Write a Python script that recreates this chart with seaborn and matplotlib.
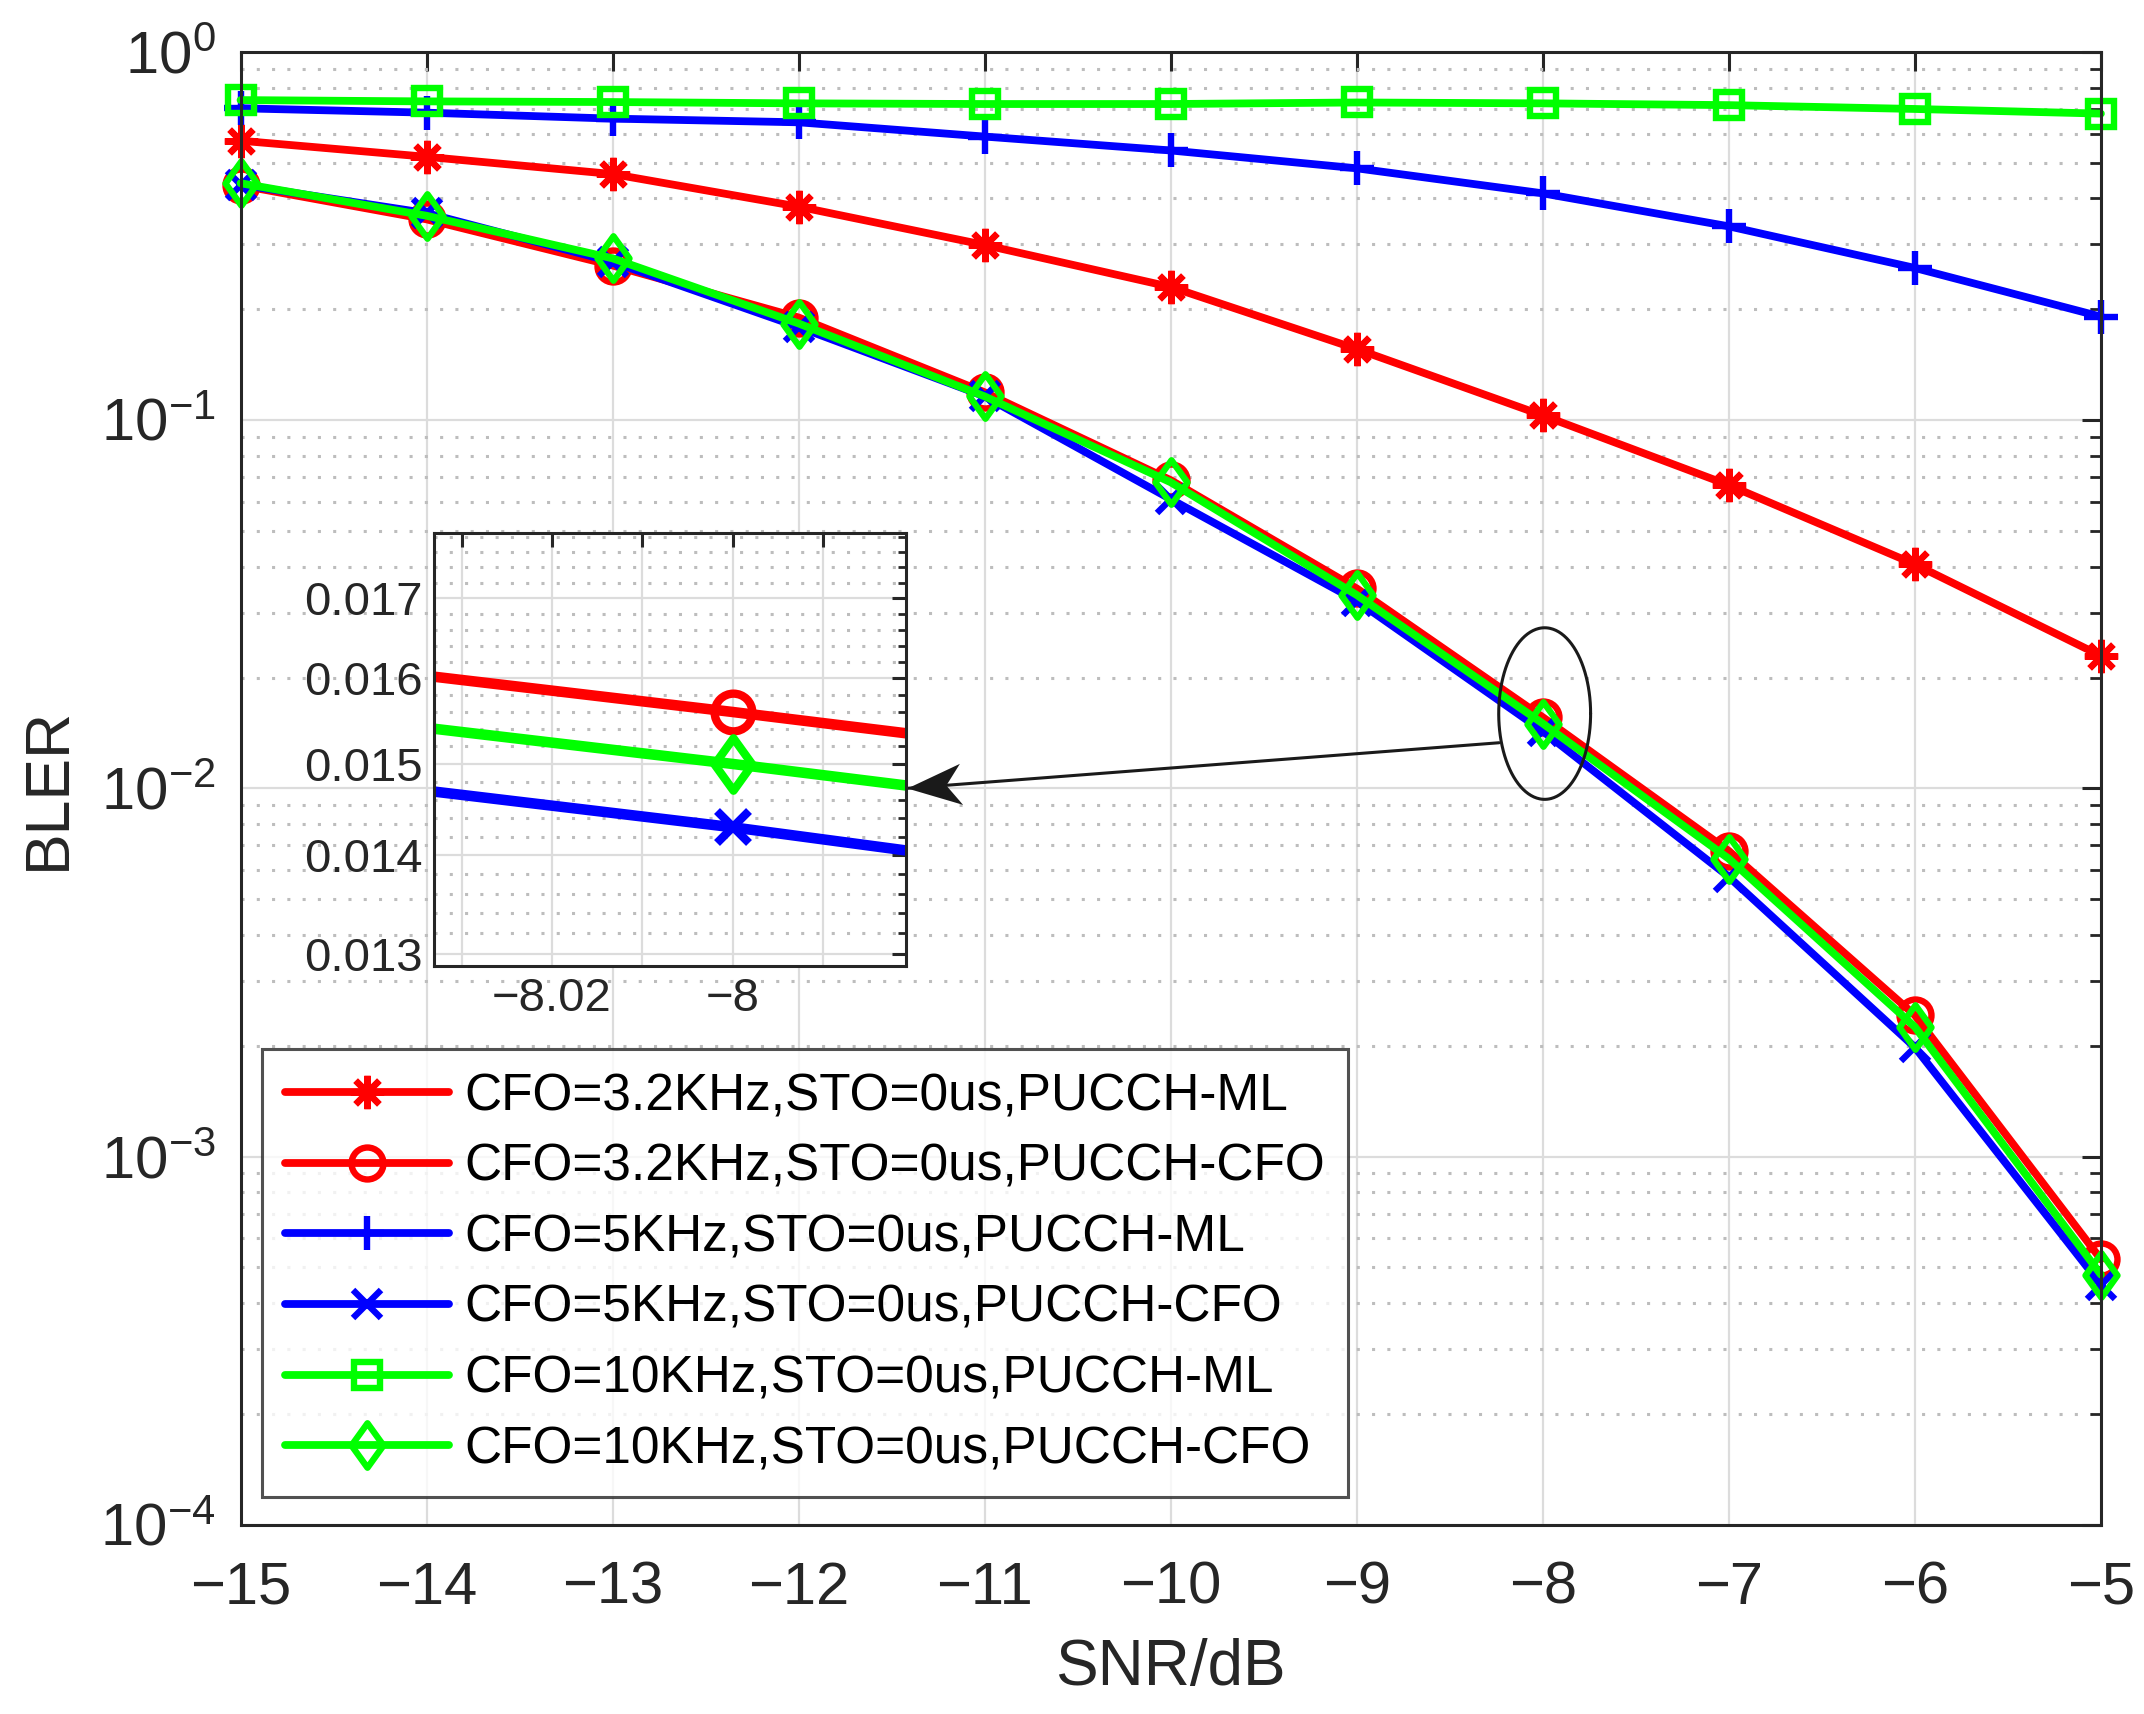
import numpy as np
import pandas as pd
import seaborn as sns
import matplotlib.pyplot as plt
from matplotlib.path import Path
from matplotlib.ticker import FixedLocator, NullFormatter, FixedFormatter, LogFormatterMathtext, FormatStrFormatter


# SNR points and BLER
snr = [-15, -14, -13, -12, -11, -10, -9, -8, -7, -6, -5]

bler_32_ml = [0.574, 0.519, 0.466, 0.380, 0.299, 0.230, 0.156, 0.103, 0.0666, 0.0406, 0.0229]
bler_32_cfo = [0.434, 0.351, 0.263, 0.190, 0.119, 0.0687, 0.0349, 0.0156, 0.00676, 0.00242, 0.000526]
bler_5_ml = [0.703, 0.684, 0.659, 0.644, 0.589, 0.540, 0.483, 0.413, 0.336, 0.259, 0.191]
bler_5_cfo = [0.436, 0.365, 0.269, 0.179, 0.116, 0.0610, 0.0323, 0.0143, 0.00575, 0.00198, 0.000449]
bler_10_ml = [0.740, 0.734, 0.731, 0.725, 0.722, 0.722, 0.729, 0.725, 0.717, 0.700, 0.680]
bler_10_cfo = [0.440, 0.359, 0.275, 0.183, 0.116, 0.0678, 0.0335, 0.0150, 0.00644, 0.00225, 0.000478]

labels = ['CFO=3.2KHz,STO=0us,PUCCH-ML', 'CFO=3.2KHz,STO=0us,PUCCH-CFO',
          'CFO=5KHz,STO=0us,PUCCH-ML', 'CFO=5KHz,STO=0us,PUCCH-CFO',
          'CFO=10KHz,STO=0us,PUCCH-ML', 'CFO=10KHz,STO=0us,PUCCH-CFO']
series = [bler_32_ml, bler_32_cfo, bler_5_ml, bler_5_cfo, bler_10_ml, bler_10_cfo]

# tall diamond like matlab's
diamond = Path([(0, 1), (0.72, 0), (0, -1), (-0.72, 0), (0, 1)],
               [Path.MOVETO, Path.LINETO, Path.LINETO, Path.LINETO, Path.CLOSEPOLY])
colors = ['#ff0000', '#ff0000', '#0000ff', '#0000ff', '#00ff00', '#00ff00']
markers = [(8, 2, 0), 'o', '+', 'x', 's', diamond]
msizes = [12, 11.5, 12.5, 10, 9.5, 16]

sns.set_theme(style='white')
plt.rcParams['font.family'] = ['Liberation Sans', 'DejaVu Sans']
plt.rcParams['mathtext.fontset'] = 'custom'
plt.rcParams['mathtext.rm'] = 'Liberation Sans'
plt.rcParams['mathtext.it'] = 'Liberation Sans:italic'
plt.rcParams['mathtext.bf'] = 'Liberation Sans:bold'

dark = '#262626'
fig = plt.figure(figsize=(10.72, 8.57), dpi=200)
ax = fig.add_axes([0.1122, 0.1104, 0.8677, 0.8593])
axin = fig.add_axes([0.2023, 0.4365, 0.2202, 0.2527])

for a, lw, mew, scale, clip in ((ax, 2.8, 2.3, 1.0, False), (axin, 3.8, 3.0, 1.18, True)):
    for vals, lab, c, m, ms in zip(series, labels, colors, markers, msizes):
        sns.lineplot(x=snr, y=vals, ax=a, color=c, marker=m, markersize=ms * scale,
                     markerfacecolor='none', markeredgecolor=c, markeredgewidth=mew,
                     linewidth=lw, label=lab, legend=False, clip_on=clip)
    a.set_yscale('log')
    a.set_facecolor('white')
    for s in a.spines.values():
        s.set_color(dark)
        s.set_linewidth(1.1)
    a.tick_params(which='both', direction='in', top=True, right=True, colors=dark)
    a.grid(True, which='major', color='#dcdcdc', linewidth=0.8)
    a.set_axisbelow(True)

# main axes
ax.set_xlim(-15, -5)
ax.set_ylim(1e-4, 1)
ax.set_xticks(snr)
ax.yaxis.set_major_locator(FixedLocator([1e-4, 1e-3, 1e-2, 1e-1, 1]))
ax.yaxis.set_major_formatter(LogFormatterMathtext())
minors = [k * 10.0 ** e for e in range(-4, 0) for k in range(2, 10)]
ax.yaxis.set_minor_locator(FixedLocator(minors))
ax.yaxis.set_minor_formatter(NullFormatter())
ax.grid(True, which='minor', axis='y', color='#bdbdbd', linewidth=1.1, linestyle=(0, (1, 4)))
ax.tick_params(which='major', length=7, width=1.1, labelsize=21.5, pad=9)
ax.tick_params(which='minor', length=4, width=1.0)
ax.tick_params(axis='x', pad=13)
ax.set_xlabel('SNR/dB', fontsize=23, color=dark, labelpad=8)
ax.set_ylabel('BLER', fontsize=22.5, color=dark, labelpad=8)

# ellipse round the -8 dB point
t = np.linspace(0, 2 * np.pi, 300)
c_y = np.log10(bler_32_cfo[7]) + 0.01
ax.plot(snr[7] + 0.01 + 0.247 * np.cos(t), 10 ** (c_y + 0.233 * np.sin(t)), color='k', lw=1.1)

# arrow from the ellipse to the zoomed view, notched head as a rotated marker
tail = (-8.235, 0.0133)
tip = (-11.42, 0.01)
ax.plot([tail[0], tip[0]], [tail[1], tip[1]], color='k', lw=1.1)
p0, p1 = ax.transData.transform([tail, tip])
ang = np.arctan2(p1[1] - p0[1], p1[0] - p0[0])
head = np.array([(0, 0), (-1, 0.38), (-0.72, 0), (-1, -0.38), (0, 0)])
rot = np.array([[np.cos(ang), -np.sin(ang)], [np.sin(ang), np.cos(ang)]])
head = head @ rot.T
ax.plot([tip[0]], [tip[1]], marker=Path(head, closed=True), markersize=40,
        color='k', markeredgewidth=0, clip_on=False, zorder=5)

leg = ax.legend(loc='lower left', bbox_to_anchor=(0.0113, 0.0187), borderaxespad=0,
                fontsize=18.5, frameon=True, fancybox=False, edgecolor=dark,
                handlelength=3.2, handletextpad=0.3, labelspacing=0.42, borderpad=0.45)
leg.get_frame().set_linewidth(1.1)
for txt in leg.get_texts():
    txt.set_color('black')

# inset
axin.set_xlim(-8.0331, -7.9808)
axin.set_ylim(0.01288, 0.01786)
axin.xaxis.set_major_locator(FixedLocator([-8.03, -8.02, -8.01, -8.0, -7.99]))
axin.xaxis.set_major_formatter(FixedFormatter(['', '\u22128.02', '', '\u22128', '']))
axin.xaxis.set_minor_formatter(NullFormatter())
axin.yaxis.set_major_locator(FixedLocator([0.013, 0.014, 0.015, 0.016, 0.017]))
axin.yaxis.set_major_formatter(FormatStrFormatter('%.3f'))
in_minor = [v / 10000 for v in range(128, 180, 2) if v % 10 != 0]
axin.yaxis.set_minor_locator(FixedLocator(in_minor))
axin.yaxis.set_minor_formatter(NullFormatter())
axin.grid(True, which='minor', axis='y', color='#bdbdbd', linewidth=1.1, linestyle=(0, (1, 4)))
axin.tick_params(which='major', length=5, width=1.1, labelsize=17, pad=4)
axin.tick_params(which='minor', length=3, width=1.0)
axin.set_xlabel('')
axin.set_ylabel('')

fig.savefig('out.png', dpi=200, facecolor='white')
